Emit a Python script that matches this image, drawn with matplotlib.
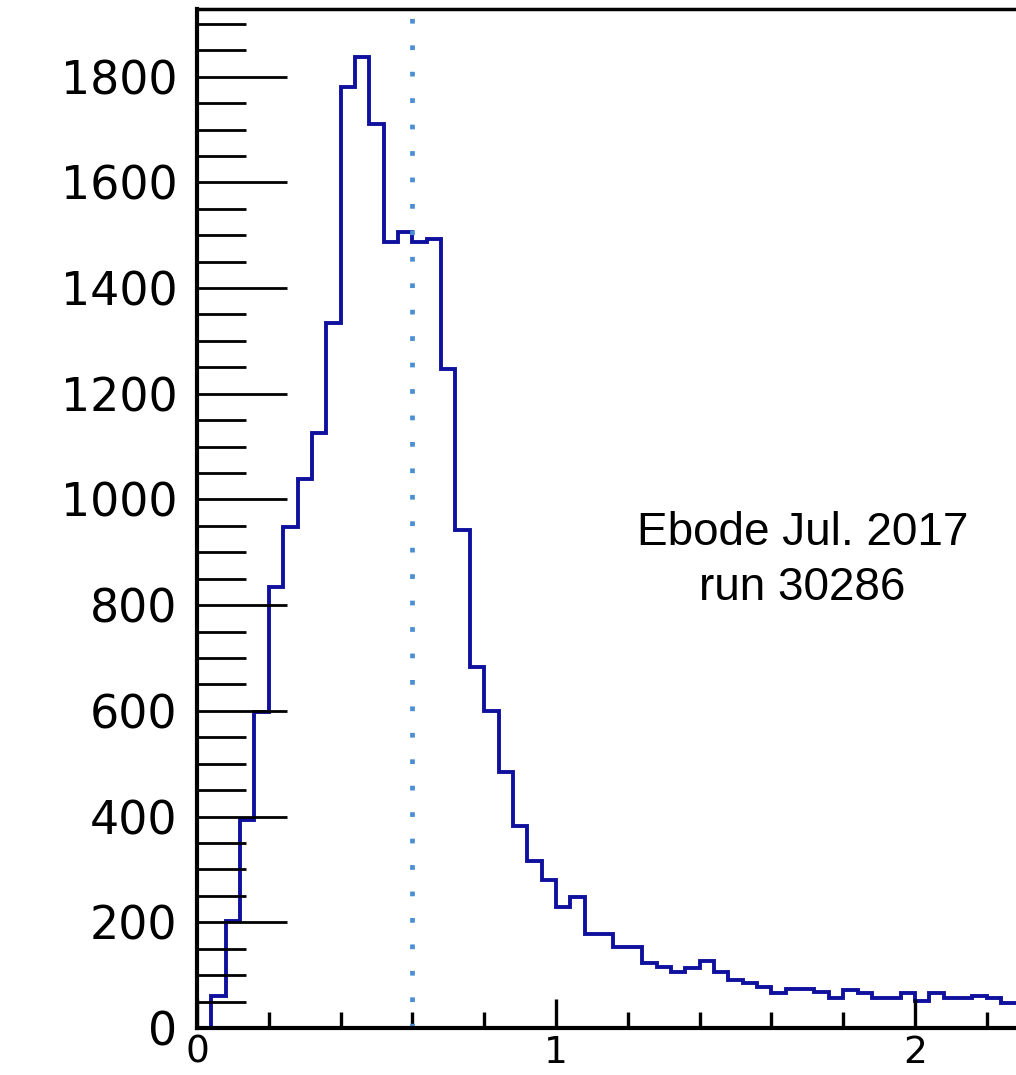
import matplotlib
matplotlib.use('Agg')
import matplotlib.pyplot as plt
import numpy as np
from matplotlib.ticker import MultipleLocator, FixedLocator

# histogram contents, bin width 0.04 starting at 0
bin_width = 0.04
counts = [0, 60, 202, 393, 598, 834, 948, 1039, 1126, 1334,
          1781, 1837, 1710, 1487, 1506, 1487, 1493, 1247, 942, 683,
          600, 484, 382, 316, 280, 229, 248, 178, 178, 153,
          153, 123, 115, 106, 113, 127, 106, 91, 85, 78,
          66, 73, 73, 69, 56, 72, 67, 56, 56, 66,
          52, 66, 56, 56, 61, 56, 47]
edges = np.round(np.arange(len(counts) + 1) * bin_width, 2)

cut_value = 0.6
y_labels = [0, 200, 400, 600, 800, 1000, 1200, 1400, 1600, 1800]
x_labels = [0, 1, 2]
note_lines = ["Ebode Jul. 2017", "run 30286"]

fig = plt.figure(figsize=(10.16, 10.75), dpi=100)
ax = fig.add_axes([197/1016, 47/1075, 819/1016, 1019/1075])

ax.stairs(counts, edges, baseline=None, color='#10109e', linewidth=2.8)
ax.axvline(cut_value, color='#4a8fd4', linewidth=3.4,
           linestyle=(0, (1, 4.6)), dash_capstyle='butt')

ax.set_xlim(0, 819/359)
ax.set_ylim(0, 1928)

ax.yaxis.set_major_locator(FixedLocator(y_labels))
ax.yaxis.set_minor_locator(MultipleLocator(50))
ax.xaxis.set_major_locator(FixedLocator(x_labels))
ax.xaxis.set_minor_locator(MultipleLocator(0.2))

ax.tick_params(axis='y', which='major', direction='in', length=65, width=2.0,
               pad=14, labelsize=33)
ax.tick_params(axis='y', which='minor', direction='in', length=35, width=2.0)
ax.tick_params(axis='x', which='major', direction='in', length=21, width=2.4,
               pad=5, labelsize=27)
ax.tick_params(axis='x', which='minor', direction='in', length=11.5, width=2.4)

for lab in ax.get_yticklabels() + ax.get_xticklabels():
    lab.set_family('DejaVu Sans')

ax.spines['right'].set_visible(False)
ax.spines['left'].set_linewidth(3)
ax.spines['bottom'].set_linewidth(3)
ax.spines['top'].set_linewidth(2.5)

ax.text(0.739, 0.474, note_lines[0], transform=ax.transAxes, ha='center',
        va='baseline', fontsize=33, family='Liberation Sans')
ax.text(0.739, 0.420, note_lines[1], transform=ax.transAxes, ha='center',
        va='baseline', fontsize=33, family='Liberation Sans')

fig.savefig('out.png', dpi=100)
